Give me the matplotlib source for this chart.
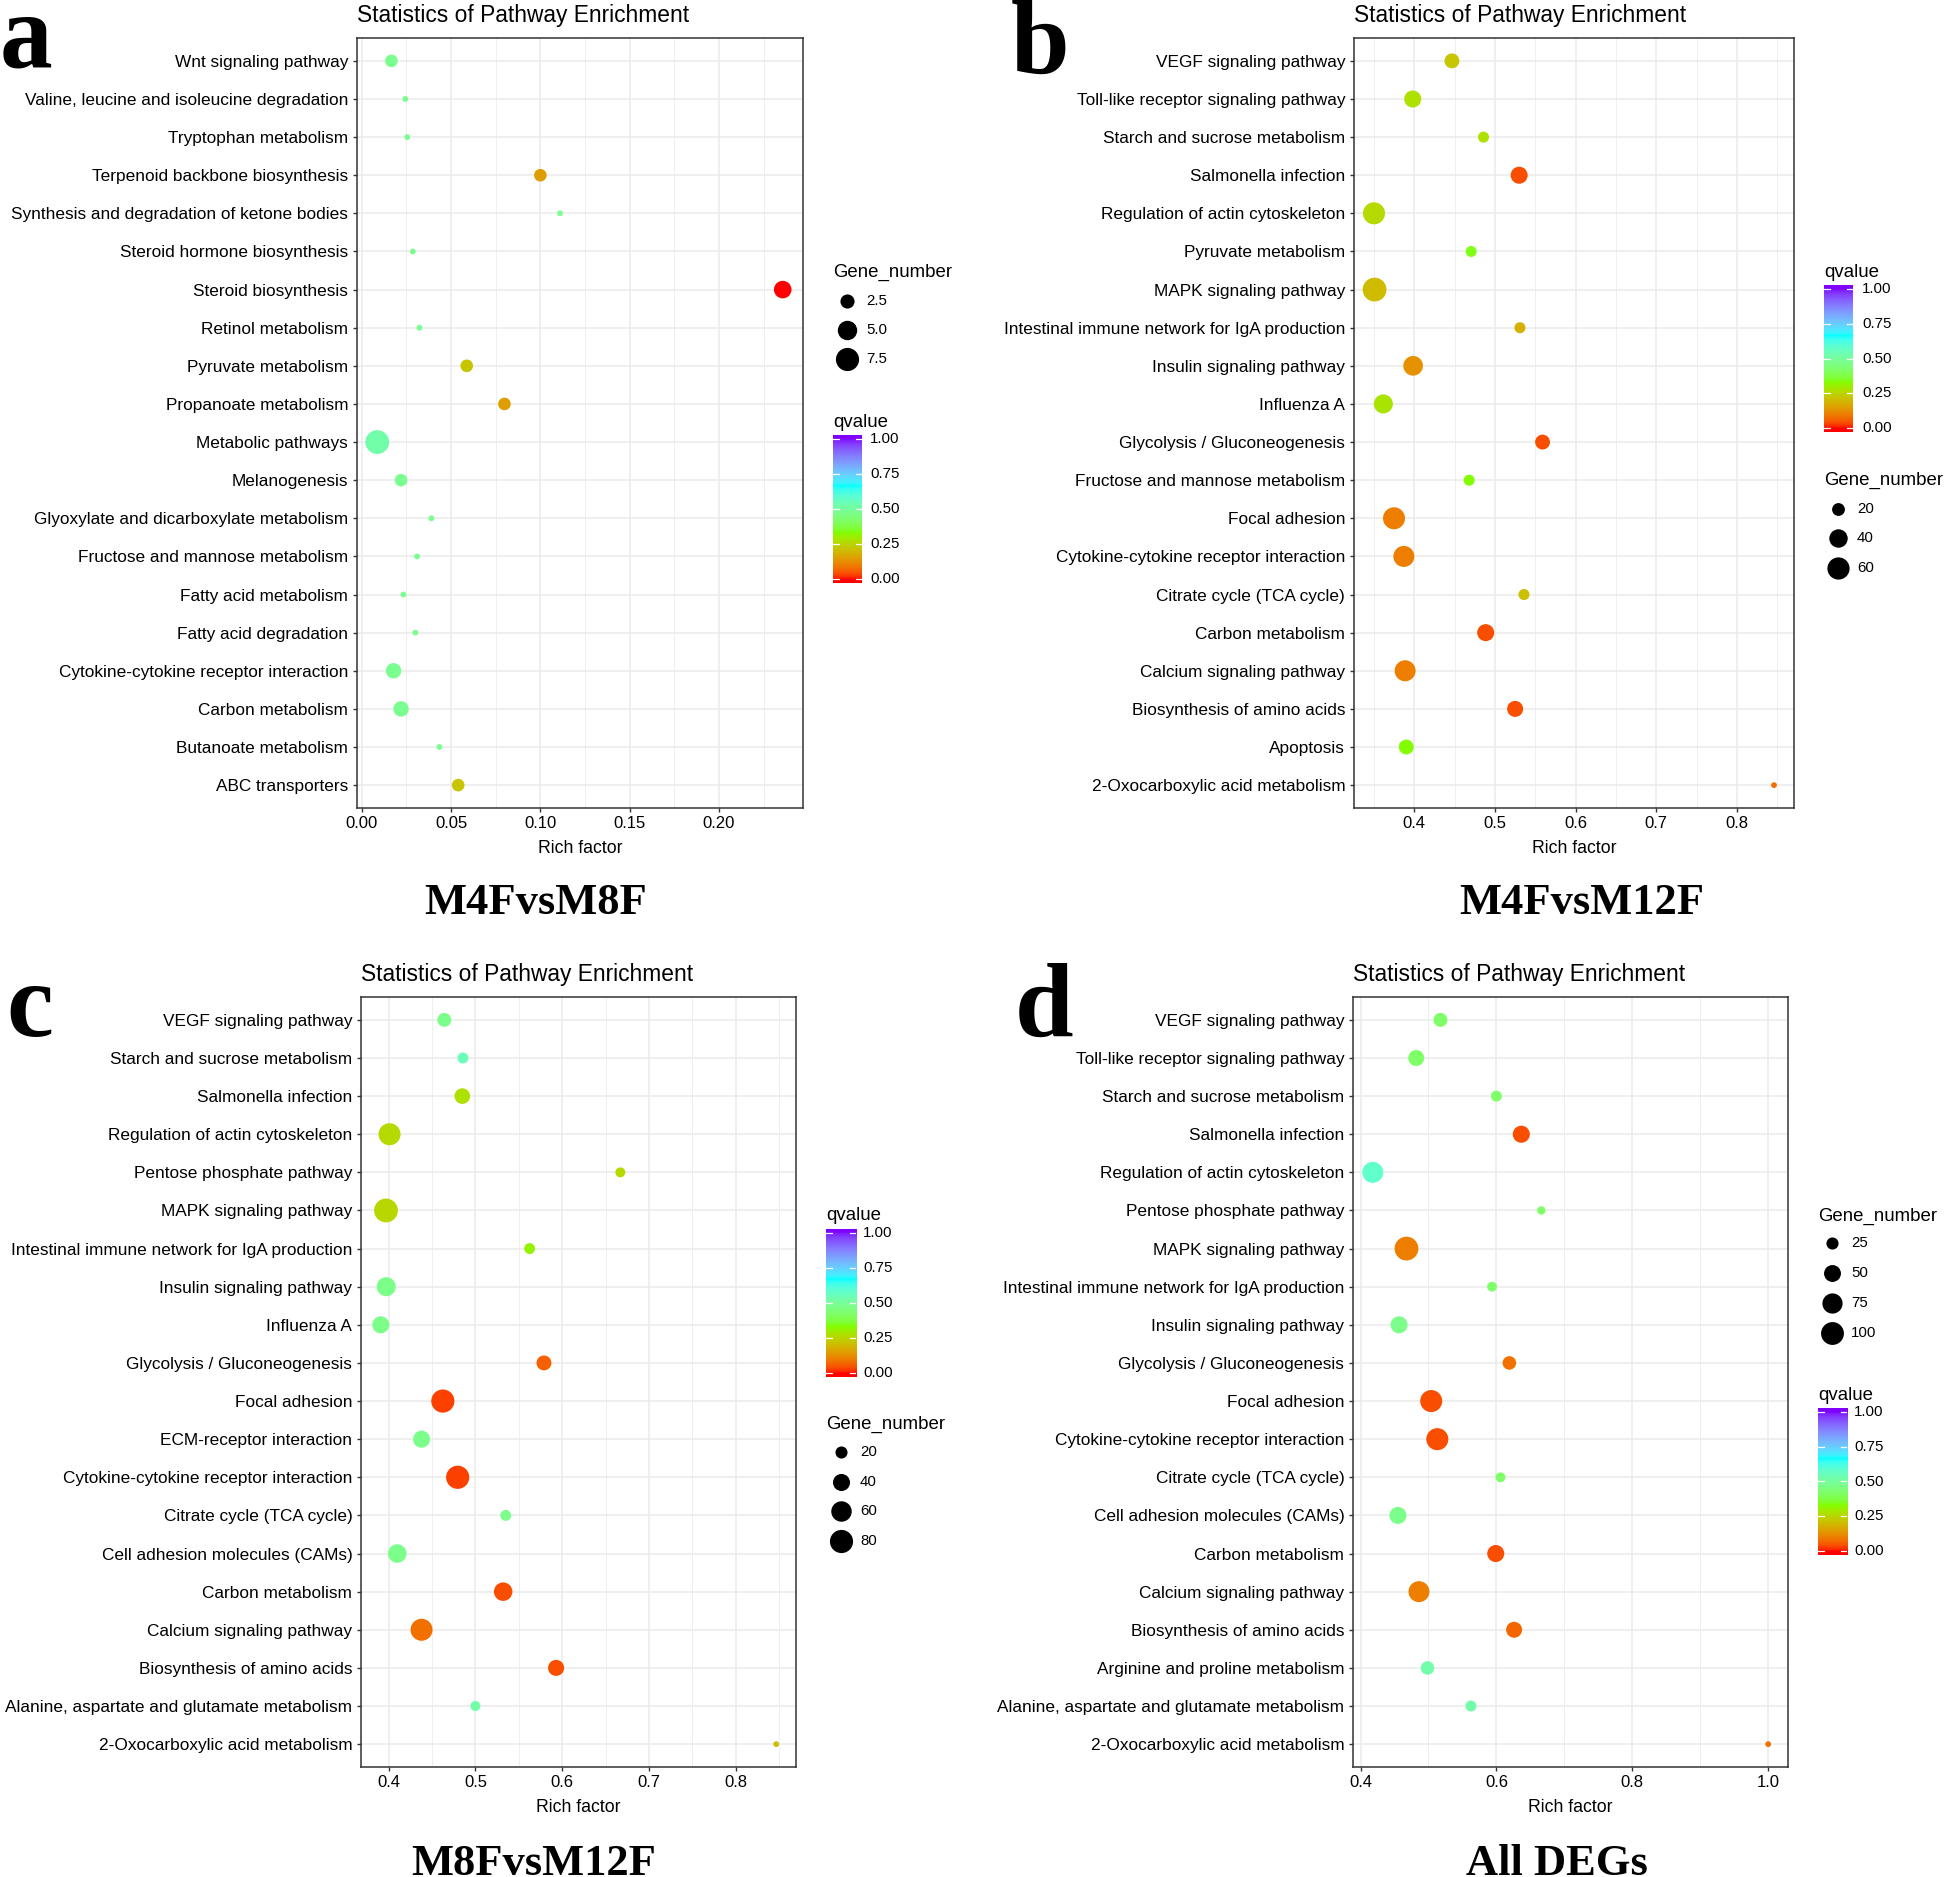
import numpy as np
import matplotlib
matplotlib.use("Agg")
import matplotlib.pyplot as plt
from matplotlib.colors import ListedColormap, to_rgb

W, H = 1946, 1877
DPI = 100

# ---------------- data ----------------
a_terms = ["Wnt signaling pathway", "Valine, leucine and isoleucine degradation",
           "Tryptophan metabolism", "Terpenoid backbone biosynthesis",
           "Synthesis and degradation of ketone bodies", "Steroid hormone biosynthesis",
           "Steroid biosynthesis", "Retinol metabolism", "Pyruvate metabolism",
           "Propanoate metabolism", "Metabolic pathways", "Melanogenesis",
           "Glyoxylate and dicarboxylate metabolism", "Fructose and mannose metabolism",
           "Fatty acid metabolism", "Fatty acid degradation",
           "Cytokine-cytokine receptor interaction", "Carbon metabolism",
           "Butanoate metabolism", "ABC transporters"]
a_rich = [0.0166, 0.0244, 0.0255, 0.100, 0.111, 0.0286, 0.2357, 0.0323, 0.0588, 0.0799,
          0.0087, 0.022, 0.039, 0.031, 0.0233, 0.030, 0.0178, 0.022, 0.0435, 0.054]
a_genes = [2, 1, 1, 2, 1, 1, 4, 1, 2, 2, 8, 2, 1, 1, 1, 1, 3, 3, 1, 2]
a_q = [0.48, 0.48, 0.48, 0.15, 0.48, 0.48, 0.0, 0.48, 0.22, 0.15,
       0.52, 0.48, 0.48, 0.48, 0.48, 0.48, 0.48, 0.48, 0.48, 0.22]

b_terms = ["VEGF signaling pathway", "Toll-like receptor signaling pathway",
           "Starch and sucrose metabolism", "Salmonella infection",
           "Regulation of actin cytoskeleton", "Pyruvate metabolism",
           "MAPK signaling pathway", "Intestinal immune network for IgA production",
           "Insulin signaling pathway", "Influenza A", "Glycolysis / Gluconeogenesis",
           "Fructose and mannose metabolism", "Focal adhesion",
           "Cytokine-cytokine receptor interaction", "Citrate cycle (TCA cycle)",
           "Carbon metabolism", "Calcium signaling pathway", "Biosynthesis of amino acids",
           "Apoptosis", "2-Oxocarboxylic acid metabolism"]
b_rich = [0.4466, 0.398, 0.4858, 0.530, 0.350, 0.4705, 0.3507, 0.531, 0.3985, 0.3616,
          0.559, 0.468, 0.3748, 0.387, 0.536, 0.4885, 0.3886, 0.525, 0.390, 0.846]
b_genes = [26, 34, 16, 34, 59, 16, 70, 16, 46, 43, 26, 16, 59, 53, 16, 34, 53, 30, 26, 11]
b_q = [0.22, 0.27, 0.27, 0.04, 0.26, 0.34, 0.20, 0.18, 0.13, 0.28,
       0.04, 0.33, 0.10, 0.10, 0.21, 0.04, 0.10, 0.04, 0.33, 0.08]

c_terms = ["VEGF signaling pathway", "Starch and sucrose metabolism", "Salmonella infection",
           "Regulation of actin cytoskeleton", "Pentose phosphate pathway",
           "MAPK signaling pathway", "Intestinal immune network for IgA production",
           "Insulin signaling pathway", "Influenza A", "Glycolysis / Gluconeogenesis",
           "Focal adhesion", "ECM-receptor interaction",
           "Cytokine-cytokine receptor interaction", "Citrate cycle (TCA cycle)",
           "Cell adhesion molecules (CAMs)", "Carbon metabolism",
           "Calcium signaling pathway", "Biosynthesis of amino acids",
           "Alanine, aspartate and glutamate metabolism", "2-Oxocarboxylic acid metabolism"]
c_rich = [0.4642, 0.4857, 0.4849, 0.4011, 0.667, 0.397, 0.5625, 0.3973, 0.391, 0.579,
          0.4625, 0.438, 0.4796, 0.535, 0.41, 0.532, 0.438, 0.593, 0.50, 0.8466]
c_genes = [26, 17, 33, 71, 15, 85, 17, 51, 40, 30, 80, 40, 80, 17, 48, 48, 71, 35, 15, 11]
c_q = [0.47, 0.55, 0.27, 0.26, 0.26, 0.25, 0.31, 0.47, 0.47, 0.06,
       0.03, 0.47, 0.03, 0.47, 0.47, 0.04, 0.08, 0.04, 0.52, 0.21]

d_terms = ["VEGF signaling pathway", "Toll-like receptor signaling pathway",
           "Starch and sucrose metabolism", "Salmonella infection",
           "Regulation of actin cytoskeleton", "Pentose phosphate pathway",
           "MAPK signaling pathway", "Intestinal immune network for IgA production",
           "Insulin signaling pathway", "Glycolysis / Gluconeogenesis", "Focal adhesion",
           "Cytokine-cytokine receptor interaction", "Citrate cycle (TCA cycle)",
           "Cell adhesion molecules (CAMs)", "Carbon metabolism", "Calcium signaling pathway",
           "Biosynthesis of amino acids", "Arginine and proline metabolism",
           "Alanine, aspartate and glutamate metabolism", "2-Oxocarboxylic acid metabolism"]
d_rich = [0.5176, 0.482, 0.600, 0.6366, 0.418, 0.666, 0.4676, 0.5935, 0.4567, 0.619,
          0.504, 0.513, 0.606, 0.455, 0.599, 0.486, 0.626, 0.4985, 0.5625, 1.0]
d_genes = [33, 44, 21, 51, 82, 15, 110, 18, 51, 31, 92, 92, 18, 51, 51, 82, 44, 31, 21, 13]
d_q = [0.42, 0.42, 0.42, 0.04, 0.58, 0.42, 0.10, 0.42, 0.47, 0.08,
       0.04, 0.04, 0.42, 0.47, 0.04, 0.10, 0.07, 0.52, 0.52, 0.08]

a_breaks = [2.5, 5.0, 7.5]
b_breaks = [20, 40, 60]
c_breaks = [20, 40, 60, 80]
d_breaks = [25, 50, 75, 100]
q_breaks = [0.0, 0.25, 0.5, 0.75, 1.0]

panel_names = ["M4FvsM8F", "M4FvsM12F", "M8FvsM12F", "All DEGs"]
panel_letters = ["a", "b", "c", "d"]
title_text = "Statistics of Pathway Enrichment"

# ---------------- colour scale: rainbow(4) interpolated in Lab ----------------
def _srgb_to_lab(rgb):
    c = np.asarray(rgb, float)
    lin = np.where(c <= 0.04045, c / 12.92, ((c + 0.055) / 1.055) ** 2.4)
    M = np.array([[0.4124, 0.3576, 0.1805], [0.2126, 0.7152, 0.0722], [0.0193, 0.1192, 0.9505]])
    xyz = M @ lin / np.array([0.95047, 1.0, 1.08883])
    d = 6 / 29
    f = np.where(xyz > d ** 3, np.cbrt(xyz), xyz / (3 * d * d) + 4 / 29)
    return np.array([116 * f[1] - 16, 500 * (f[0] - f[1]), 200 * (f[1] - f[2])])

def _lab_to_srgb(lab):
    L, a, b = lab
    fy = (L + 16) / 116
    fx = fy + a / 500
    fz = fy - b / 200
    d = 6 / 29
    f = np.array([fx, fy, fz])
    xyz = np.where(f > d, f ** 3, 3 * d * d * (f - 4 / 29)) * np.array([0.95047, 1.0, 1.08883])
    Mi = np.array([[3.2406, -1.5372, -0.4986], [-0.9689, 1.8758, 0.0415], [0.0557, -0.2040, 1.0570]])
    lin = np.clip(Mi @ xyz, 0, 1)
    c = np.where(lin <= 0.0031308, 12.92 * lin, 1.055 * lin ** (1 / 2.4) - 0.055)
    return np.clip(c, 0, 1)

anchors = ["#FF0000", "#80FF00", "#00FFFF", "#8000FF"]
labs = [_srgb_to_lab(to_rgb(h)) for h in anchors]
cols = []
for t in np.linspace(0, 1, 256):
    seg = min(int(t * 3), 2)
    u = t * 3 - seg
    cols.append(_lab_to_srgb(labs[seg] * (1 - u) + labs[seg + 1] * u))
cmap = ListedColormap(cols)

# ---------------- size scale (ggplot scale_size, range 1..6) ----------------
def diam_px(g, lo, hi):
    frac = np.clip((np.asarray(g, float) - lo) / (hi - lo), 0, 1)
    size = 1 + 5 * np.sqrt(frac)
    return 2.2 + 3.6 * size

def s_of(g, lo, hi):
    return (diam_px(g, lo, hi) * 72 / DPI) ** 2

# ---------------- figure ----------------
plt.rcParams["font.family"] = ["Liberation Sans", "DejaVu Sans"]
fig = plt.figure(figsize=(W / DPI, H / DPI), dpi=DPI)
ov = fig.add_axes([0, 0, 1, 1], zorder=5)
ov.set_xlim(0, W)
ov.set_ylim(H, 0)
ov.axis("off")
ov.patch.set_alpha(0)

GRID = "#EBEBEB"
DARK = "#333333"
SERIF = ["Liberation Serif", "DejaVu Serif"]


def draw_panel(rect, terms, rich, genes, q, major, minor, fmt, breaks, size_leg, col_leg,
               letter, letter_pos, name, name_pos):
    l, t, r, b = rect
    ax = fig.add_axes([l / W, 1 - b / H, (r - l) / W, (b - t) / H])
    n = len(terms)
    y = np.arange(n)[::-1]
    g = np.asarray(genes, float)
    glo, ghi = g.min(), g.max()
    ax.scatter(rich, y, s=s_of(g, glo, ghi), c=q, cmap=cmap, vmin=0, vmax=1,
               linewidths=0, zorder=3)
    xlo, xhi = min(rich), max(rich)
    pad = 0.05 * (xhi - xlo)
    ax.set_xlim(xlo - pad, xhi + pad)
    ax.set_ylim(-0.6, n - 1 + 0.6)
    ax.set_yticks(y)
    ax.set_yticklabels(terms)
    ax.set_xticks(major)
    ax.set_xticklabels([fmt.format(v) for v in major])
    ax.set_xticks(minor, minor=True)
    ax.grid(True, which="major", color=GRID, lw=1.1)
    ax.grid(True, which="minor", axis="x", color=GRID, lw=0.55)
    ax.set_axisbelow(True)
    ax.tick_params(which="minor", length=0)
    ax.tick_params(which="major", length=3.0, width=1.0, color=DARK, labelcolor="black")
    ax.tick_params(axis="y", pad=3.3, labelsize=12.4)
    ax.tick_params(axis="x", pad=2.6, labelsize=12.0)
    for sp in ax.spines.values():
        sp.set_color(DARK)
        sp.set_linewidth(1.1)
    # title & axis label
    ov.text(l, t - 16.5, title_text, fontsize=16.4, ha="left", va="baseline", color="black")
    ov.text((l + r) / 2, b + 45, "Rich factor", fontsize=12.7, ha="center", va="baseline",
            color="black")
    # size legend
    stx, sty, ptx, pty, lbx = size_leg
    ov.text(stx, sty, "Gene_number", fontsize=13.4, ha="left", va="center")
    for br, yy in zip(breaks, pty):
        ov.scatter([ptx], [yy], s=s_of(br, glo, ghi), color="black", linewidths=0)
        lab = ("%.1f" % br) if isinstance(br, float) else str(br)
        ov.text(lbx, yy, lab, fontsize=10.8, ha="left", va="center")
    # colour legend
    ctx, cty, bx0, bx1, by0, by1, clx = col_leg
    ov.text(ctx, cty, "qvalue", fontsize=13.4, ha="left", va="center")
    cax = fig.add_axes([bx0 / W, 1 - by1 / H, (bx1 - bx0) / W, (by1 - by0) / H])
    ext = 0.5 / 19
    grad = np.linspace(-ext, 1 + ext, 300).reshape(-1, 1)
    cax.imshow(np.clip(grad, 0, 1), cmap=cmap, vmin=0, vmax=1, aspect="auto",
               origin="lower", extent=[0, 1, -ext, 1 + ext])
    cax.set_xlim(0, 1)
    cax.set_ylim(-ext, 1 + ext)
    for v in q_breaks:
        cax.plot([0, 0.2], [v, v], color="white", lw=0.9)
        cax.plot([0.8, 1.0], [v, v], color="white", lw=0.9)
        yy = by1 - (v + ext) / (1 + 2 * ext) * (by1 - by0)
        ov.text(clx, yy, "%.2f" % v, fontsize=10.8, ha="left", va="center")
    cax.axis("off")
    # panel letter and name
    ov.text(letter_pos[0], letter_pos[1], letter, fontsize=76, fontweight="bold",
            family=SERIF, ha="left", va="baseline")
    ov.text(name_pos[0], name_pos[1], name, fontsize=32, fontweight="bold",
            family=SERIF, ha="center", va="baseline")
    return ax


draw_panel((357, 38, 803, 808), a_terms, a_rich, a_genes, a_q,
           [0.0, 0.05, 0.10, 0.15, 0.20], [0.025, 0.075, 0.125, 0.175, 0.225], "{:.2f}",
           a_breaks,
           (833, 272, 847, [301, 330, 359], 866),
           (833, 422, 833, 862, 435, 583, 870),
           panel_letters[0], (0, 66), panel_names[0], (536, 914))

draw_panel((1354, 38, 1794, 808), b_terms, b_rich, b_genes, b_q,
           [0.4, 0.5, 0.6, 0.7, 0.8], [0.35, 0.45, 0.55, 0.65, 0.75, 0.85], "{:.1f}",
           b_breaks,
           (1824, 480, 1838, [509, 538, 568], 1857),
           (1824, 272, 1824, 1853, 285, 432, 1862),
           panel_letters[1], (1011, 74), panel_names[1], (1582, 914))

draw_panel((361, 997, 796, 1767), c_terms, c_rich, c_genes, c_q,
           [0.4, 0.5, 0.6, 0.7, 0.8], [0.45, 0.55, 0.65, 0.75, 0.85], "{:.1f}",
           c_breaks,
           (826, 1424, 841, [1452, 1482, 1511, 1541], 860),
           (826, 1216, 826, 856, 1229, 1377, 863),
           panel_letters[2], (6, 1036), panel_names[2], (534, 1875))

draw_panel((1353, 997, 1788, 1767), d_terms, d_rich, d_genes, d_q,
           [0.4, 0.6, 0.8, 1.0], [0.5, 0.7, 0.9], "{:.1f}",
           d_breaks,
           (1818, 1216, 1832, [1243, 1273, 1303, 1333], 1851),
           (1818, 1395, 1818, 1847, 1408, 1555, 1854),
           panel_letters[3], (1015, 1037), panel_names[3], (1557, 1875))

fig.savefig("out.png", dpi=DPI)
